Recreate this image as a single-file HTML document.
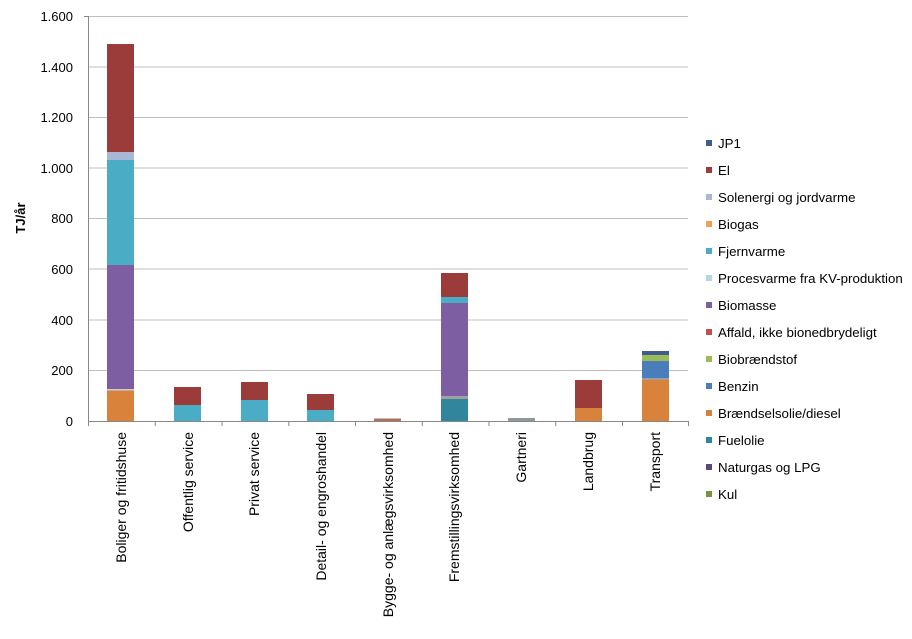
<!DOCTYPE html>
<html><head><meta charset="utf-8"><style>body{margin:0;background:#fff}svg{display:block;font-family:"Liberation Sans",sans-serif}</style></head><body>
<svg width="912" height="639" xmlns="http://www.w3.org/2000/svg">
<g stroke="#bfbfbf" stroke-width="1">
<line x1="88" x2="688" y1="16.5" y2="16.5"/><line x1="88" x2="688" y1="67" y2="67"/><line x1="88" x2="688" y1="117.5" y2="117.5"/><line x1="88" x2="688" y1="168" y2="168"/><line x1="88" x2="688" y1="218.5" y2="218.5"/><line x1="88" x2="688" y1="269" y2="269"/><line x1="88" x2="688" y1="320" y2="320"/><line x1="88" x2="688" y1="370.5" y2="370.5"/>
</g>
<g stroke="#888" stroke-width="1">
<line x1="88.5" x2="88.5" y1="16" y2="421"/><line x1="84" x2="88" y1="16.5" y2="16.5"/>
<line x1="88" x2="688" y1="421.5" y2="421.5"/>
<line x1="88.5" x2="88.5" y1="421" y2="426"/><line x1="155.3" x2="155.3" y1="421" y2="426"/><line x1="222" x2="222" y1="421" y2="426"/><line x1="288.8" x2="288.8" y1="421" y2="426"/><line x1="355.5" x2="355.5" y1="421" y2="426"/><line x1="422.3" x2="422.3" y1="421" y2="426"/><line x1="489" x2="489" y1="421" y2="426"/><line x1="555.8" x2="555.8" y1="421" y2="426"/><line x1="622.5" x2="622.5" y1="421" y2="426"/><line x1="688.5" x2="688.5" y1="421" y2="426"/>
</g>
<g font-size="13" fill="#000" text-anchor="end">
<text x="73" y="21">1.600</text><text x="73" y="72">1.400</text><text x="73" y="122">1.200</text><text x="73" y="173">1.000</text><text x="73" y="223">800</text><text x="73" y="274">600</text><text x="73" y="325">400</text><text x="73" y="375">200</text><text x="73" y="426">0</text>
</g>
<text transform="translate(25,218) rotate(-90)" font-size="13" font-weight="bold" text-anchor="middle">TJ/år</text>
<rect x="107" y="44" width="27" height="108" fill="#9b3b3a"/>
<rect x="107" y="152" width="27" height="8" fill="#a9b7d6"/>
<rect x="107" y="160" width="27" height="105" fill="#4aacc5"/>
<rect x="107" y="265" width="27" height="124" fill="#7e5ea2"/>
<rect x="107" y="389" width="27" height="1.5" fill="#cfcfcf"/>
<rect x="107" y="390.5" width="27" height="30.5" fill="#d9823b"/>
<rect x="174" y="387" width="27" height="18" fill="#9b3b3a"/>
<rect x="174" y="405" width="27" height="16" fill="#4aacc5"/>
<rect x="241" y="382" width="27" height="18" fill="#9b3b3a"/>
<rect x="241" y="400" width="27" height="21" fill="#4aacc5"/>
<rect x="307" y="394" width="27" height="16" fill="#9b3b3a"/>
<rect x="307" y="410" width="27" height="11" fill="#4aacc5"/>
<rect x="374" y="418.5" width="27" height="2.5" fill="#b0705a"/>
<rect x="441" y="273" width="27" height="24" fill="#9b3b3a"/>
<rect x="441" y="297" width="27" height="6" fill="#4aacc5"/>
<rect x="441" y="303" width="27" height="93" fill="#7e5ea2"/>
<rect x="441" y="396" width="27" height="3" fill="#a0a0a0"/>
<rect x="441" y="399" width="27" height="22" fill="#31859c"/>
<rect x="508" y="418" width="27" height="3" fill="#8c9aa0"/>
<rect x="575" y="380" width="27" height="28" fill="#9b3b3a"/>
<rect x="575" y="408" width="27" height="13" fill="#d9823b"/>
<rect x="642" y="351" width="27" height="4" fill="#3e5c8f"/>
<rect x="642" y="355" width="27" height="6" fill="#9bbb59"/>
<rect x="642" y="361" width="27" height="17" fill="#4a7ebb"/>
<rect x="642" y="378" width="27" height="2" fill="#a0a0a0"/>
<rect x="642" y="380" width="27" height="41" fill="#d9823b"/>
<g font-size="14" text-anchor="end">
<text transform="translate(126,432) rotate(-90)">Boliger og fritidshuse</text>
<text transform="translate(193,432) rotate(-90)">Offentlig service</text>
<text transform="translate(259,432) rotate(-90)">Privat service</text>
<text transform="translate(326,432) rotate(-90)">Detail- og engroshandel</text>
<text transform="translate(393,432) rotate(-90)">Bygge- og anlægsvirksomhed</text>
<text transform="translate(459,432) rotate(-90)">Fremstillingsvirksomhed</text>
<text transform="translate(526,432) rotate(-90)">Gartneri</text>
<text transform="translate(593,432) rotate(-90)">Landbrug</text>
<text transform="translate(660,432) rotate(-90)">Transport</text>
</g>
<g font-size="13.3">
<rect x="706" y="140" width="6" height="6" fill="#3e5c8f"/><text x="718" y="148">JP1</text>
<rect x="706" y="167" width="6" height="6" fill="#9b3b3a"/><text x="718" y="175">El</text>
<rect x="706" y="194" width="6" height="6" fill="#a9b7d6"/><text x="718" y="202">Solenergi og jordvarme</text>
<rect x="706" y="221" width="6" height="6" fill="#f0a050"/><text x="718" y="229">Biogas</text>
<rect x="706" y="248" width="6" height="6" fill="#4aacc5"/><text x="718" y="256">Fjernvarme</text>
<rect x="706" y="275" width="6" height="6" fill="#b7d7e3"/><text x="718" y="283">Procesvarme fra KV-produktion</text>
<rect x="706" y="302" width="6" height="6" fill="#7e5ea2"/><text x="718" y="310">Biomasse</text>
<rect x="706" y="329" width="6" height="6" fill="#c0504d"/><text x="718" y="337">Affald, ikke bionedbrydeligt</text>
<rect x="706" y="356" width="6" height="6" fill="#9bbb59"/><text x="718" y="364">Biobrændstof</text>
<rect x="706" y="383" width="6" height="6" fill="#4a7ebb"/><text x="718" y="391">Benzin</text>
<rect x="706" y="410" width="6" height="6" fill="#d9823b"/><text x="718" y="418">Brændselsolie/diesel</text>
<rect x="706" y="437" width="6" height="6" fill="#31859c"/><text x="718" y="445">Fuelolie</text>
<rect x="706" y="464" width="6" height="6" fill="#5a4a7a"/><text x="718" y="472">Naturgas og LPG</text>
<rect x="706" y="491" width="6" height="6" fill="#77933c"/><text x="718" y="499">Kul</text>
</g>
</svg>
</body></html>
